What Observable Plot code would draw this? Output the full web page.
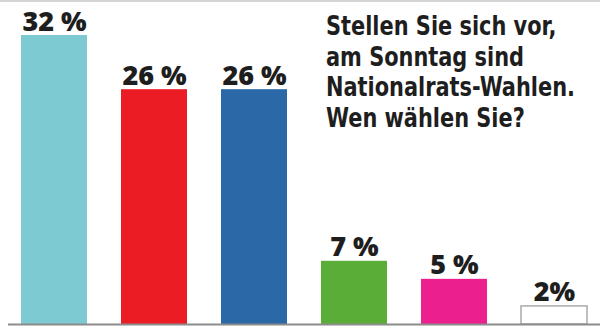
<!DOCTYPE html>
<html>
<head>
<meta charset="utf-8">
<script src="https://cdn.jsdelivr.net/npm/d3@7"></script>
<script src="https://cdn.jsdelivr.net/npm/@observablehq/plot@0.6"></script>
<style>
  html, body { margin: 0; padding: 0; background: #fff; }
  #wrap { position: relative; width: 600px; height: 329px; overflow: hidden; }
  #topline { position: absolute; left: 0; top: 0; width: 600px; height: 2px; background: #d4d4d4; }
  #title {
    position: absolute; left: 326px; top: 11px;
    font-family: "DejaVu Sans Condensed", "DejaVu Sans", sans-serif;
    font-weight: bold; font-size: 27px; line-height: 30.5px; color: #1e1e1e;
    white-space: nowrap; transform: scaleX(0.86); transform-origin: left top;
  }
</style>
</head>
<body>
<div id="wrap">
  <div id="chart"></div>
  <div id="topline"></div>
  <div id="title">Stellen Sie sich vor,<br>am Sonntag sind<br>Nationalrats-Wahlen.<br>Wen wählen Sie?</div>
</div>
<script>
const parties = ["ÖVP", "SPÖ", "FPÖ", "Grüne", "NEOS", "Sonstige"];
const values = [32, 26, 26, 7, 5, 2];
const valueLabels = ["32 %", "26 %", "26 %", "7 %", "5 %", "2%"];
const fills = ["#7ecad2", "#ec1c24", "#2b68a8", "#5aae38", "#ec1f8e", "#ffffff"];
const strokes = ["none", "none", "none", "none", "none", "#aaaaaa"];

const data = parties.map((p, i) => ({party: p, value: values[i], label: valueLabels[i], fill: fills[i], stroke: strokes[i]}));

const chart = Plot.plot({
  width: 600,
  height: 329,
  marginTop: 35,
  marginBottom: 5,
  marginLeft: 8,
  marginRight: 0,
  style: {background: "transparent", overflow: "visible"},
  x: {domain: parties, paddingInner: 0.343, paddingOuter: 0.12, axis: null},
  y: {domain: [0, 32], axis: null},
  marks: [
    Plot.barY(data, {x: "party", y: "value", fill: "fill", stroke: "stroke", strokeWidth: 1.5}),
    Plot.ruleY([0], {stroke: "#8c8c8c", strokeWidth: 2}),
    Plot.text(data, {x: "party", y: "value", text: "label", dy: -5, lineAnchor: "bottom",
      fontSize: 27, fontWeight: 800, fill: "#1e1e1e",
      fontFamily: "'Open Sans', sans-serif"})
  ]
});
document.getElementById("chart").appendChild(chart);
</script>
</body>
</html>
